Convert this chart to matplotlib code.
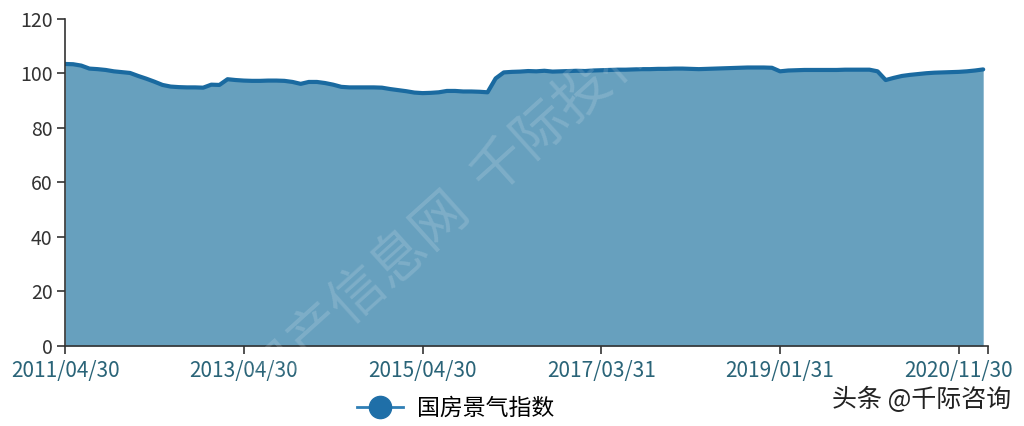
import pandas as pd
import matplotlib.pyplot as plt
from matplotlib.lines import Line2D

plt.rcParams['font.family'] = ['Noto Sans CJK SC', 'DejaVu Sans']

# month-end categories; January is not published in some years (Jan-Feb combined)
months = pd.date_range("2011-04-30", "2021-02-28", freq="ME")
skipped = ["2012-01", "2013-01", "2014-01", "2015-01", "2016-01"]
months = [m for m in months if m.strftime("%Y-%m") not in skipped]
dates = [m.strftime("%Y/%m/%d") for m in months]

index_values = [
    103.5, 103.4, 102.9, 101.8, 101.6, 101.3, 100.8, 100.5, 100.2, 99.1,
    98.1, 97.0, 95.8, 95.2, 95.0, 94.9, 94.9, 94.8, 95.9, 95.8,
    97.9, 97.6, 97.4, 97.3, 97.3, 97.4, 97.4, 97.3, 96.9, 96.2,
    96.9, 96.9, 96.5, 95.9, 95.1, 94.9, 94.9, 94.9, 94.9, 94.8,
    94.3, 93.9, 93.5, 93.0, 92.8, 92.9, 93.1, 93.6, 93.6, 93.4,
    93.4, 93.3, 93.1, 98.2, 100.4, 100.6, 100.7, 100.9, 100.8, 101.0,
    100.7, 100.8, 100.9, 101.0, 100.9, 101.1, 101.2, 101.3, 101.4, 101.4,
    101.5, 101.6, 101.6, 101.7, 101.7, 101.8, 101.8, 101.7, 101.6, 101.7,
    101.8, 101.9, 102.0, 102.1, 102.2, 102.2, 102.2, 102.1, 100.8, 101.1,
    101.2, 101.3, 101.3, 101.3, 101.3, 101.3, 101.4, 101.4, 101.4, 101.4,
    100.8, 97.6, 98.4, 99.1, 99.5, 99.8, 100.1, 100.3, 100.4, 100.5,
    100.6, 100.8, 101.1, 101.5,
]

label_every = 22
series_name = "国房景气指数"

fill_color = "#67a0be"
line_color = "#1a6aa0"
label_color = "#2a6478"

x = list(range(len(index_values)))

fig = plt.figure(figsize=(10.24, 4.26), dpi=100)
ax = fig.add_axes([0.0635, 0.1878, 0.9014, 0.7676])

ax.fill_between(x, index_values, 0, color=fill_color, lw=0)
ax.plot(x, index_values, color=line_color, lw=3, solid_capstyle="round")

x_end = len(x) - 0.4
ax.set_xlim(0, x_end)
ax.set_ylim(0, 120)
ax.set_yticks(range(0, 121, 20))

ticks = list(range(0, len(x), label_every))
ax.set_xticks(ticks)
ax.set_xticklabels([dates[t] for t in ticks], color=label_color, fontsize=15)
ax.set_xticks([x_end], minor=True)
ax.tick_params(axis="x", which="both", length=6, width=1.2, color="#333333", pad=4)
ax.tick_params(axis="y", length=6, width=1.2, color="#333333", labelsize=14,
               labelcolor="#333333", pad=3)

for side in ["top", "right"]:
    ax.spines[side].set_visible(False)
ax.spines["left"].set_color("#333333")
ax.spines["left"].set_linewidth(1.2)
ax.spines["bottom"].set_color("#333333")
ax.spines["bottom"].set_linewidth(1.2)

handle = Line2D([], [], color="#2f7fb5", lw=2, marker="o", markersize=16,
                markerfacecolor="#1f6fa8", markeredgecolor="#1f6fa8")
fig.legend([handle], [series_name], loc="center", bbox_to_anchor=(0.445, 0.042),
           frameon=False, fontsize=16.5, handlelength=2.0, handletextpad=0.6)

# watermarks
fig.text(0.44, 0.5, "房产信息网  千际投行", fontsize=40, color="white", alpha=0.15,
         rotation=42, ha="center", va="center")
fig.text(0.988, 0.062, "头条 @千际咨询", fontsize=18, color="#222222",
         ha="right", va="center")

fig.savefig("out.png", dpi=100)
